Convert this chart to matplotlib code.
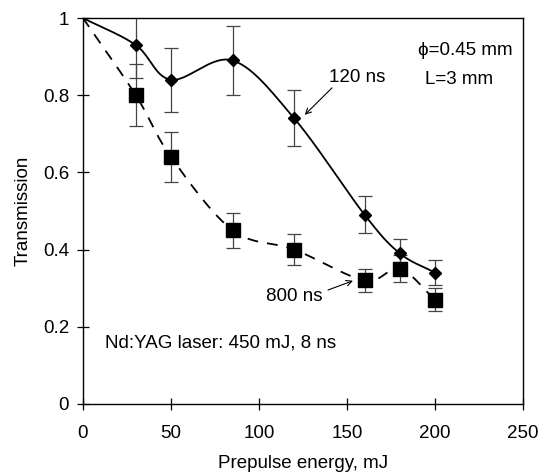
import numpy as np
import matplotlib
matplotlib.use("Agg")
from matplotlib import pyplot as plt

plt.rcParams['font.family'] = ['Liberation Sans', 'DejaVu Sans']

# 120 ns series (diamonds, solid)
energy_120 = [0, 30, 50, 85, 120, 160, 180, 200]
trans_120 = [1.0, 0.93, 0.84, 0.89, 0.74, 0.49, 0.39, 0.34]
err_120 = [0, 0.085, 0.083, 0.09, 0.073, 0.048, 0.038, 0.032]

# 800 ns series (squares, dashed)
energy_800 = [0, 30, 50, 85, 120, 160, 180, 200]
trans_800 = [1.0, 0.80, 0.64, 0.45, 0.40, 0.32, 0.35, 0.27]
err_800 = [0, 0.08, 0.065, 0.045, 0.04, 0.03, 0.035, 0.03]

x_ticks = [0, 50, 100, 150, 200, 250]
y_ticks = [0, 0.2, 0.4, 0.6, 0.8, 1.0]
y_tick_labels = ['0', '0.2', '0.4', '0.6', '0.8', '1']

FS = 13.5


def smooth(xs, ys, n=40):
    # Catmull-Rom spline through the points, just for drawing the trend line
    xs = np.asarray(xs, float)
    ys = np.asarray(ys, float)
    px = np.concatenate([[2 * xs[0] - xs[1]], xs, [2 * xs[-1] - xs[-2]]])
    py = np.concatenate([[2 * ys[0] - ys[1]], ys, [2 * ys[-1] - ys[-2]]])
    out_x, out_y = [], []
    t = np.linspace(0, 1, n)
    for i in range(1, len(px) - 2):
        for arr, out in ((px, out_x), (py, out_y)):
            p0, p1, p2, p3 = arr[i - 1], arr[i], arr[i + 1], arr[i + 2]
            out.extend(0.5 * (2 * p1 + (-p0 + p2) * t
                              + (2 * p0 - 5 * p1 + 4 * p2 - p3) * t ** 2
                              + (-p0 + 3 * p1 - 3 * p2 + p3) * t ** 3))
    return out_x, out_y


fig = plt.figure(figsize=(5.42, 4.74), dpi=100)
ax = fig.add_axes([0.153, 0.148, 0.812, 0.814])

sx, sy = smooth(energy_120, trans_120)
ax.plot(sx, sy, color='black', lw=1.3)
dx, dy = smooth(energy_800, trans_800)
ax.plot(dx, dy, color='black', lw=1.3, dashes=(6, 5))

ax.errorbar(energy_120[1:], trans_120[1:], yerr=err_120[1:], fmt='D', color='black',
            ms=6.5, ecolor='#444444', elinewidth=0.9, capsize=5, capthick=0.9)
ax.errorbar(energy_800[1:], trans_800[1:], yerr=err_800[1:], fmt='s', color='black',
            ms=10, ecolor='#444444', elinewidth=0.9, capsize=5, capthick=0.9)

ax.set_xlim(0, 250)
ax.set_ylim(0, 1)
ax.set_xticks(x_ticks)
ax.set_yticks(y_ticks)
ax.set_yticklabels(y_tick_labels)
ax.tick_params(direction='inout', length=8, labelsize=FS, width=0.9)
ax.tick_params(axis='x', pad=11.5)
ax.tick_params(axis='y', pad=6)
for s in ax.spines.values():
    s.set_linewidth(1.0)

ax.set_xlabel('Prepulse energy, mJ', fontsize=FS, labelpad=9)
ax.set_ylabel('Transmission', fontsize=FS, labelpad=8)

ax.text(190.5, 0.917, '\u03d5=0.45 mm', fontsize=FS, ha='left', va='center')
ax.text(194.5, 0.84, 'L=3 mm', fontsize=FS, ha='left', va='center')

ax.text(156, 0.845, '120 ns', fontsize=FS, ha='center', va='center')
ax.annotate('', xy=(126, 0.749), xytext=(141.5, 0.819),
            arrowprops=dict(arrowstyle='->', color='black', lw=0.8, shrinkA=0, shrinkB=0))
ax.text(120, 0.277, '800 ns', fontsize=FS, ha='center', va='center')
ax.annotate('', xy=(153.4, 0.319), xytext=(139.2, 0.295),
            arrowprops=dict(arrowstyle='->', color='black', lw=0.8, shrinkA=0, shrinkB=0))
ax.text(12.5, 0.158, 'Nd:YAG laser: 450 mJ, 8 ns', fontsize=FS, ha='left', va='center')

fig.savefig('out.png', dpi=100)
